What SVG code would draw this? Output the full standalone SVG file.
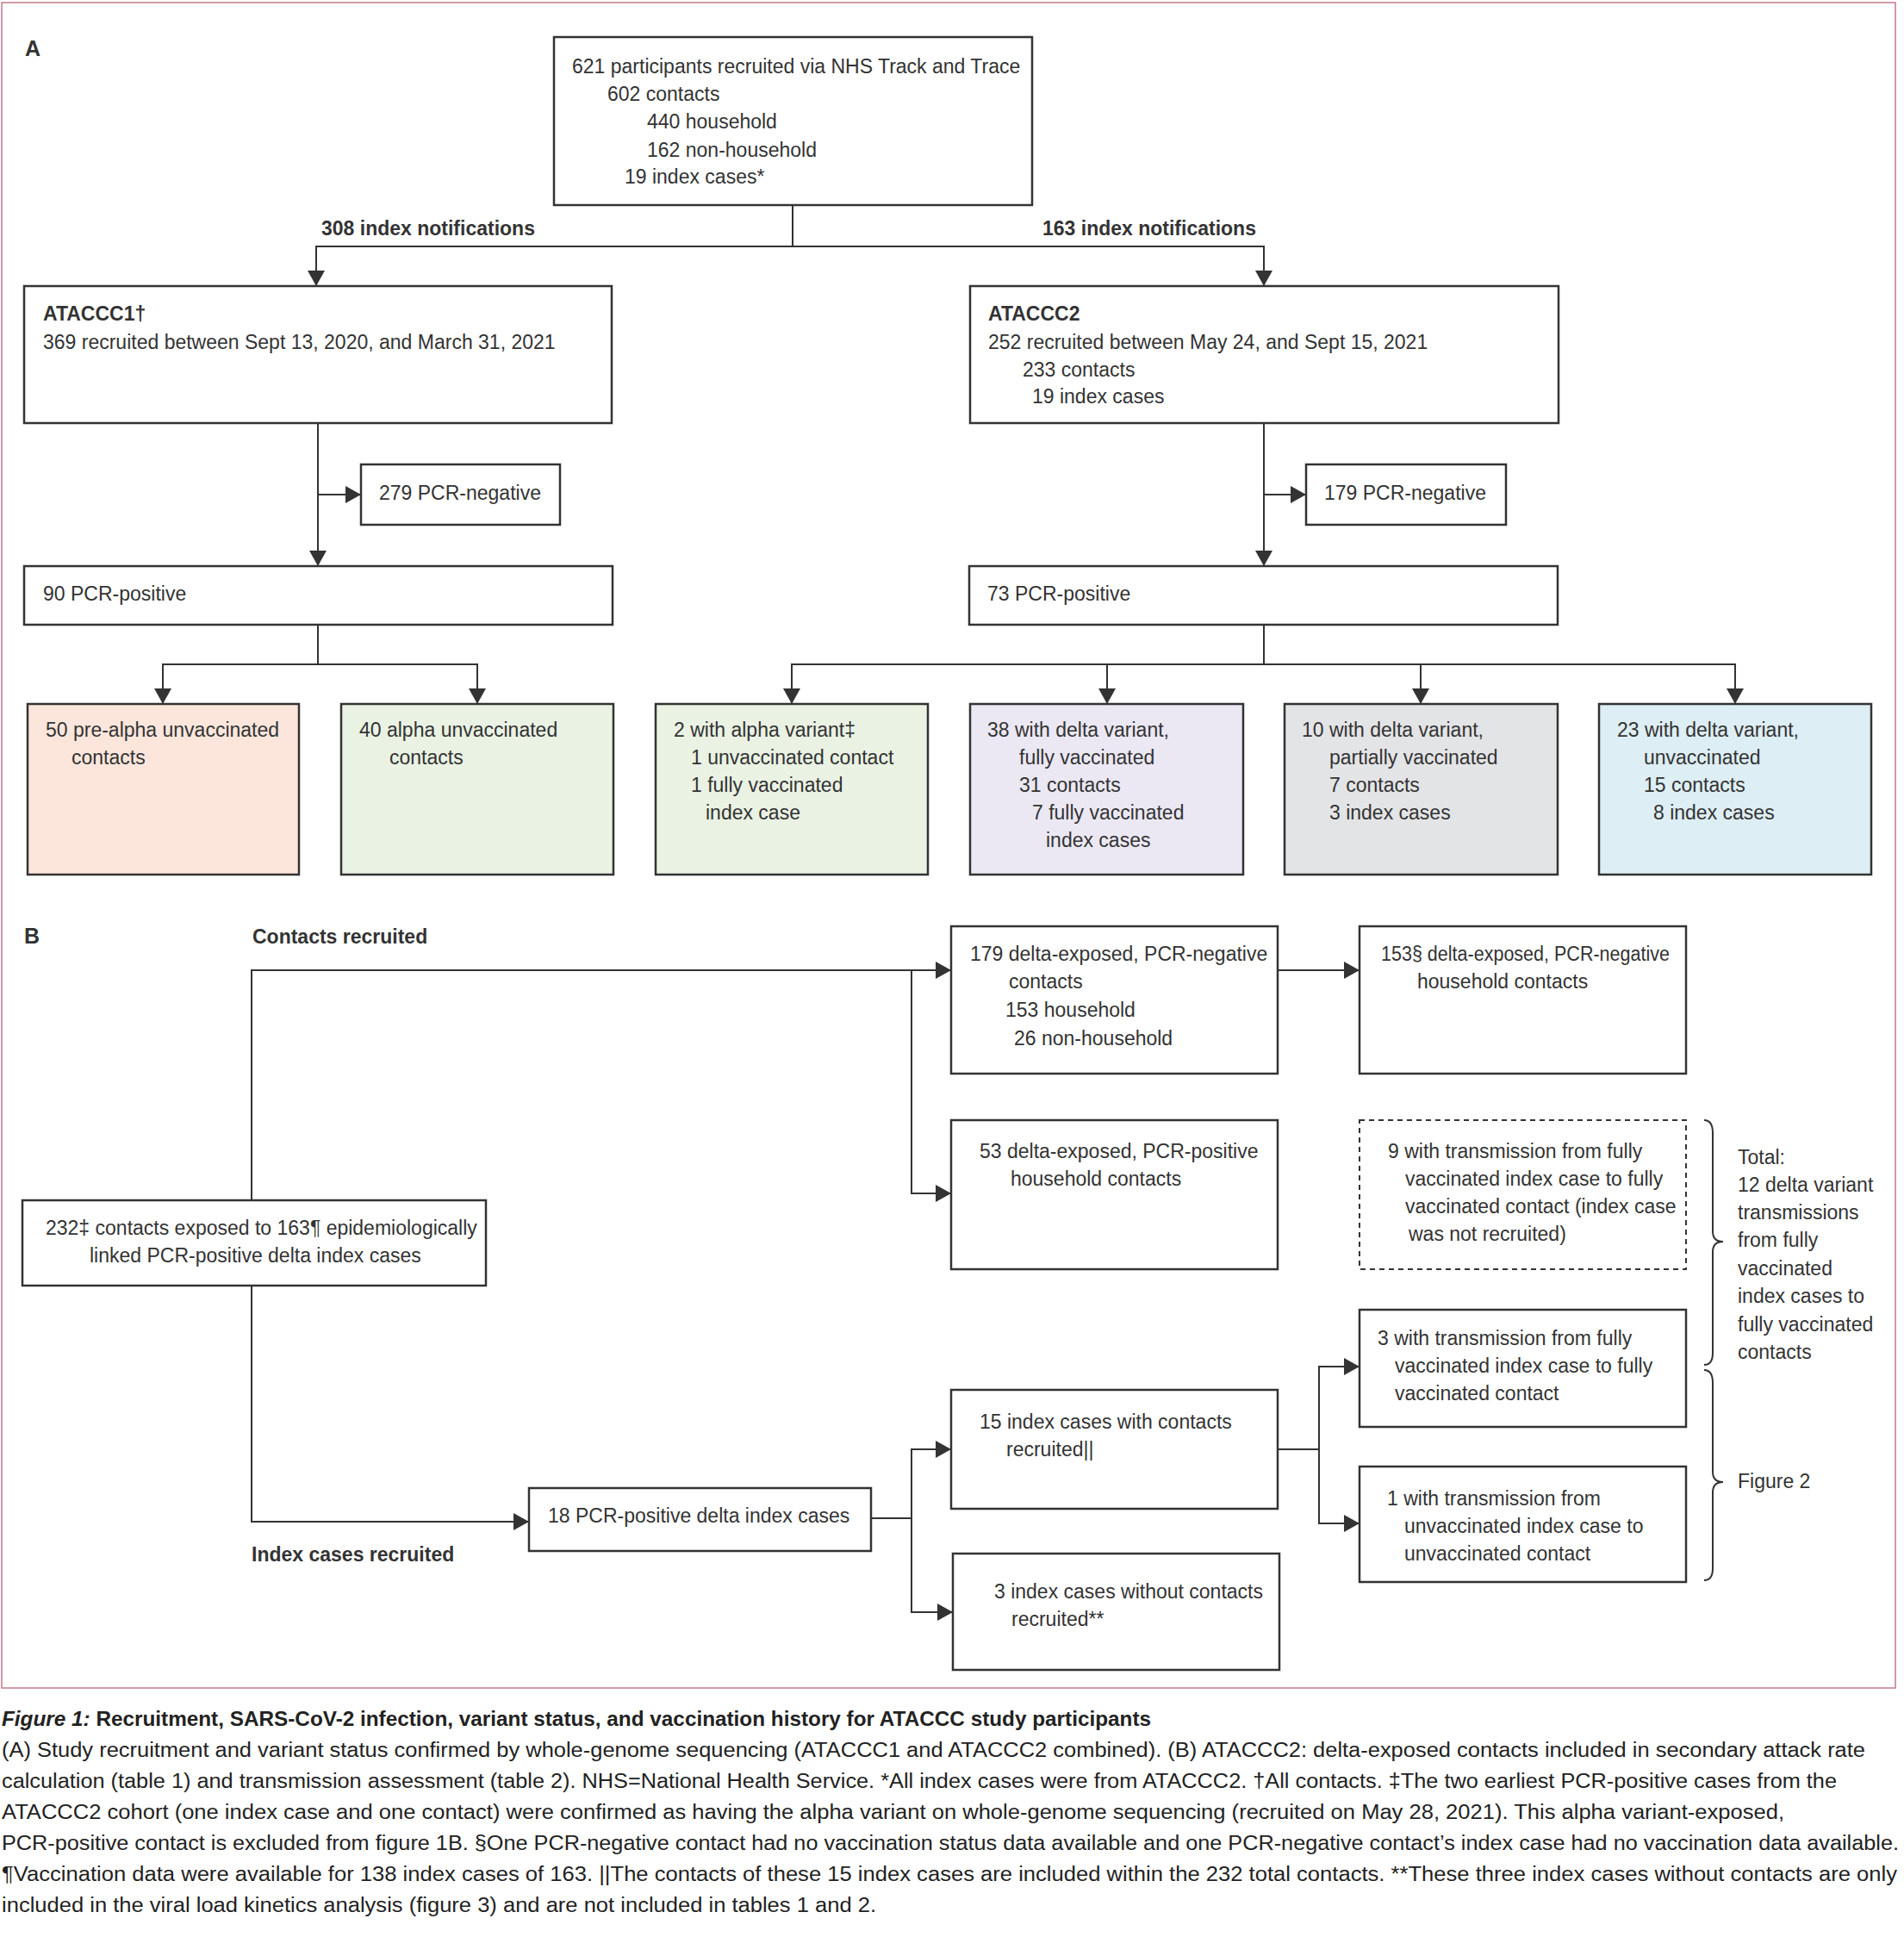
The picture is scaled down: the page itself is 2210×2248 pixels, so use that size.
<svg xmlns="http://www.w3.org/2000/svg" width="2210" height="2248" viewBox="0 0 2210 2248">
<style>
.bx{fill:#fff;stroke:#333;stroke-width:2.5}
.dash{fill:#fff;stroke:#333;stroke-width:2;stroke-dasharray:6,5}
.t{font-family:"Liberation Sans",Arial,sans-serif;font-size:23px;fill:#333}
.b{font-weight:bold}
.c{fill:none;stroke:#333;stroke-width:2}
.cap{font-family:"Liberation Sans",Arial,sans-serif;font-size:23px;fill:#222}
</style>
<defs>
<marker id="ah" markerUnits="userSpaceOnUse" markerWidth="18" markerHeight="20" refX="18" refY="10" orient="auto">
<path d="M0,0 L18,10 L0,20 Z" fill="#333"/>
</marker>
</defs>
<rect x="2" y="3" width="2198" height="1956" fill="none" stroke="#c27a8a" stroke-width="1.5"/>
<text class="t b" x="29" y="65" style="font-size:25px">A</text>
<text class="t b" x="28" y="1095" style="font-size:25px">B</text>

<g id="connectors">
<path class="c" d="M920,238 V286 H367 V332" marker-end="url(#ah)"/>
<path class="c" d="M920,286 H1467 V332" marker-end="url(#ah)"/>
<path class="c" d="M369,491 V657" marker-end="url(#ah)"/>
<path class="c" d="M369,574 H419" marker-end="url(#ah)"/>
<path class="c" d="M1467,491 V657" marker-end="url(#ah)"/>
<path class="c" d="M1467,574 H1516" marker-end="url(#ah)"/>
<path class="c" d="M369,725 V771 H189 V817" marker-end="url(#ah)"/>
<path class="c" d="M369,771 H554 V817" marker-end="url(#ah)"/>
<path class="c" d="M1467,725 V771 H919 V817" marker-end="url(#ah)"/>
<path class="c" d="M1467,771 H1285 V817" marker-end="url(#ah)"/>
<path class="c" d="M1467,771 H1649 V817" marker-end="url(#ah)"/>
<path class="c" d="M1649,771 H2014 V817" marker-end="url(#ah)"/>
<path class="c" d="M292,1393 V1126 H1104" marker-end="url(#ah)"/>
<path class="c" d="M1058,1126 V1385 H1104" marker-end="url(#ah)"/>
<path class="c" d="M1483,1126 H1578" marker-end="url(#ah)"/>
<path class="c" d="M292,1492 V1766 H614" marker-end="url(#ah)"/>
<path class="c" d="M1011,1762 H1058 V1682 H1104" marker-end="url(#ah)"/>
<path class="c" d="M1058,1762 V1871 H1106" marker-end="url(#ah)"/>
<path class="c" d="M1483,1682 H1531 V1586 H1578" marker-end="url(#ah)"/>
<path class="c" d="M1531,1682 V1768 H1578" marker-end="url(#ah)"/>
<path class="c" d="M1978,1300 Q1988,1300 1988,1315 L1988,1429 Q1988,1441 2000,1441 Q1988,1441 1988,1453 L1988,1570 Q1988,1584 1978,1584"/>
<path class="c" d="M1978,1590 Q1988,1590 1988,1605 L1988,1708 Q1988,1720 2000,1720 Q1988,1720 1988,1732 L1988,1820 Q1988,1834 1978,1834"/>
</g>

<text class="t b" x="373" y="273">308 index notifications</text>
<text class="t b" x="1210" y="273">163 index notifications</text>
<text class="t b" x="293" y="1095">Contacts recruited</text>
<text class="t b" x="292" y="1812">Index cases recruited</text>

<g id="n-top">
<rect class="bx" x="643" y="43" width="555" height="195"/>
<text class="t"><tspan x="664" y="85">621 participants recruited via NHS Track and Trace</tspan><tspan x="705" y="117">602 contacts</tspan><tspan x="751" y="149">440 household</tspan><tspan x="751" y="182">162 non-household</tspan><tspan x="725" y="213">19 index cases*</tspan></text>
</g>
<g id="n-atacc1">
<rect class="bx" x="28" y="332" width="682" height="159"/>
<text class="t b" x="50" y="372">ATACCC1†</text>
<text class="t" x="50" y="405">369 recruited between Sept 13, 2020, and March 31, 2021</text>
</g>
<g id="n-atacc2">
<rect class="bx" x="1126" y="332" width="683" height="159"/>
<text class="t b" x="1147" y="372">ATACCC2</text>
<text class="t"><tspan x="1147" y="405">252 recruited between May 24, and Sept 15, 2021</tspan><tspan x="1187" y="437">233 contacts</tspan><tspan x="1198" y="468">19 index cases</tspan></text>
</g>
<g id="n-neg1">
<rect class="bx" x="419" y="539" width="231" height="70"/>
<text class="t" x="440" y="580">279 PCR-negative</text>
</g>
<g id="n-neg2">
<rect class="bx" x="1516" y="539" width="232" height="70"/>
<text class="t" x="1537" y="580">179 PCR-negative</text>
</g>
<g id="n-pos1">
<rect class="bx" x="28" y="657" width="683" height="68"/>
<text class="t" x="50" y="697">90 PCR-positive</text>
</g>
<g id="n-pos2">
<rect class="bx" x="1125" y="657" width="683" height="68"/>
<text class="t" x="1146" y="697">73 PCR-positive</text>
</g>

<g id="n-prealpha">
<rect class="bx" x="32" y="817" width="315" height="198" style="fill:#fce6dc"/>
<text class="t"><tspan x="53" y="855">50 pre-alpha unvaccinated</tspan><tspan x="83" y="887">contacts</tspan></text>
</g>
<g id="n-alpha">
<rect class="bx" x="396" y="817" width="316" height="198" style="fill:#e9f2e3"/>
<text class="t"><tspan x="417" y="855">40 alpha unvaccinated</tspan><tspan x="452" y="887">contacts</tspan></text>
</g>
<g id="n-alpha2">
<rect class="bx" x="761" y="817" width="316" height="198" style="fill:#e9f2e3"/>
<text class="t"><tspan x="782" y="855">2 with alpha variant‡</tspan><tspan x="802" y="887">1 unvaccinated contact</tspan><tspan x="802" y="919">1 fully vaccinated</tspan><tspan x="819" y="951">index case</tspan></text>
</g>
<g id="n-delta-full">
<rect class="bx" x="1126" y="817" width="317" height="198" style="fill:#ebe8f4"/>
<text class="t"><tspan x="1146" y="855">38 with delta variant,</tspan><tspan x="1183" y="887">fully vaccinated</tspan><tspan x="1183" y="919">31 contacts</tspan><tspan x="1198" y="951">7 fully vaccinated</tspan><tspan x="1214" y="983">index cases</tspan></text>
</g>
<g id="n-delta-part">
<rect class="bx" x="1491" y="817" width="317" height="198" style="fill:#e3e4e6"/>
<text class="t"><tspan x="1511" y="855">10 with delta variant,</tspan><tspan x="1543" y="887">partially vaccinated</tspan><tspan x="1543" y="919">7 contacts</tspan><tspan x="1543" y="951">3 index cases</tspan></text>
</g>
<g id="n-delta-unvac">
<rect class="bx" x="1856" y="817" width="316" height="198" style="fill:#ddeef4"/>
<text class="t"><tspan x="1877" y="855">23 with delta variant,</tspan><tspan x="1908" y="887">unvaccinated</tspan><tspan x="1908" y="919">15 contacts</tspan><tspan x="1919" y="951">8 index cases</tspan></text>
</g>

<g id="n-232">
<rect class="bx" x="26" y="1393" width="538" height="99"/>
<text class="t"><tspan x="53" y="1433">232‡ contacts exposed to 163¶ epidemiologically</tspan><tspan x="104" y="1465">linked PCR-positive delta index cases</tspan></text>
</g>
<g id="n-179">
<rect class="bx" x="1104" y="1075" width="379" height="171"/>
<text class="t"><tspan x="1126" y="1115">179 delta-exposed, PCR-negative</tspan><tspan x="1171" y="1147">contacts</tspan><tspan x="1167" y="1180">153 household</tspan><tspan x="1177" y="1213">26 non-household</tspan></text>
</g>
<g id="n-153">
<rect class="bx" x="1578" y="1075" width="379" height="171"/>
<text class="t" x="1603" y="1115" textLength="335" lengthAdjust="spacingAndGlyphs">153§ delta-exposed, PCR-negative</text>
<text class="t" x="1645" y="1147">household contacts</text>
</g>
<g id="n-53">
<rect class="bx" x="1104" y="1300" width="379" height="173"/>
<text class="t"><tspan x="1137" y="1344">53  delta-exposed, PCR-positive</tspan><tspan x="1173" y="1376">household contacts</tspan></text>
</g>
<g id="n-9">
<rect class="dash" x="1578" y="1300" width="379" height="173"/>
<text class="t"><tspan x="1611" y="1344">9 with transmission from fully</tspan><tspan x="1631" y="1376">vaccinated index case to fully</tspan><tspan x="1631" y="1408">vaccinated contact (index case</tspan><tspan x="1635" y="1440">was not recruited)</tspan></text>
</g>
<g id="n-3tx">
<rect class="bx" x="1578" y="1520" width="379" height="136"/>
<text class="t"><tspan x="1599" y="1561">3 with transmission from fully</tspan><tspan x="1619" y="1593">vaccinated index case to fully</tspan><tspan x="1619" y="1625">vaccinated contact</tspan></text>
</g>
<g id="n-1tx">
<rect class="bx" x="1578" y="1702" width="379" height="134"/>
<text class="t"><tspan x="1610" y="1747">1 with transmission from</tspan><tspan x="1630" y="1779">unvaccinated index case to</tspan><tspan x="1630" y="1811">unvaccinated contact</tspan></text>
</g>
<g id="n-18">
<rect class="bx" x="614" y="1727" width="397" height="73"/>
<text class="t" x="636" y="1767">18 PCR-positive delta index cases</text>
</g>
<g id="n-15">
<rect class="bx" x="1104" y="1613" width="379" height="138"/>
<text class="t"><tspan x="1137" y="1658">15 index cases with contacts</tspan><tspan x="1168" y="1690">recruited||</tspan></text>
</g>
<g id="n-3idx">
<rect class="bx" x="1106" y="1803" width="379" height="135"/>
<text class="t"><tspan x="1154" y="1855">3 index cases without contacts</tspan><tspan x="1174" y="1887">recruited**</tspan></text>
</g>
<g id="n-total">
<text class="t"><tspan x="2017" y="1351">Total:</tspan><tspan x="2017" y="1383">12 delta variant</tspan><tspan x="2017" y="1415">transmissions</tspan><tspan x="2017" y="1447">from fully</tspan><tspan x="2017" y="1480">vaccinated</tspan><tspan x="2017" y="1512">index cases to</tspan><tspan x="2017" y="1545">fully vaccinated</tspan><tspan x="2017" y="1577">contacts</tspan></text>
</g>
<g id="n-fig2">
<text class="t" x="2017" y="1727">Figure 2</text>
</g>

<g id="caption">
<text class="cap b" x="2" y="2003" textLength="1334" lengthAdjust="spacingAndGlyphs" style="font-size:24px"><tspan font-style="italic">Figure 1:</tspan> Recruitment, SARS-CoV-2 infection, variant status, and vaccination history for ATACCC study participants</text>
<text class="cap" x="2" y="2039" textLength="2163" lengthAdjust="spacingAndGlyphs">(A) Study recruitment and variant status confirmed by whole-genome sequencing (ATACCC1 and ATACCC2 combined). (B) ATACCC2: delta-exposed contacts included in secondary attack rate</text>
<text class="cap" x="2" y="2075" textLength="2130" lengthAdjust="spacingAndGlyphs">calculation (table 1) and transmission assessment (table 2). NHS=National Health Service. *All index cases were from ATACCC2. †All contacts. ‡The two earliest PCR-positive cases from the</text>
<text class="cap" x="2" y="2111" textLength="2069" lengthAdjust="spacingAndGlyphs">ATACCC2 cohort (one index case and one contact) were confirmed as having the alpha variant on whole-genome sequencing (recruited on May 28, 2021). This alpha variant-exposed,</text>
<text class="cap" x="2" y="2147" textLength="2202" lengthAdjust="spacingAndGlyphs">PCR-positive contact is excluded from figure 1B. §One PCR-negative contact had no vaccination status data available and one PCR-negative contact’s index case had no vaccination data available.</text>
<text class="cap" x="2" y="2183" textLength="2200" lengthAdjust="spacingAndGlyphs">¶Vaccination data were available for 138 index cases of 163. ||The contacts of these 15 index cases are included within the 232 total contacts. **These three index cases without contacts are only</text>
<text class="cap" x="2" y="2219" textLength="1015" lengthAdjust="spacingAndGlyphs">included in the viral load kinetics analysis (figure 3) and are not included in tables 1 and 2.</text>
</g>
</svg>
